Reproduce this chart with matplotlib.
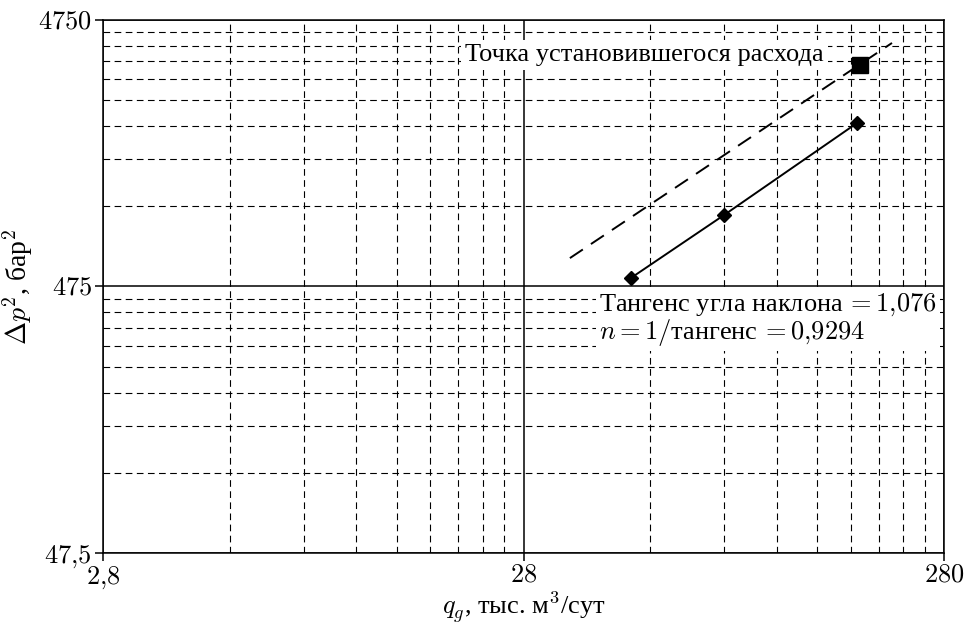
import numpy as np
import matplotlib
matplotlib.use("Agg")
import matplotlib.pyplot as plt
from matplotlib.ticker import FixedLocator, FixedFormatter, NullFormatter

plt.rcParams['font.family'] = ['Liberation Serif', 'DejaVu Serif']
plt.rcParams['mathtext.fontset'] = 'cm'

# measured points (q, dp^2)
q_meas = [50.4, 84.0, 174.0]
dp_meas = [511, 881, 1951]

# stabilised flow point
q_stab = [176.7]
dp_stab = [3220]

# dashed line through the stabilised point
q_dash = [36.1, 210.6]
dp_dash = [607, 3895]

x_major = [2.8, 28, 280]
x_labels = [r'$2{,}8$', r'$28$', r'$280$']
y_major = [47.5, 475, 4750]
y_labels = [r'$47{,}5$', r'$475$', r'$4750$']
mult = [2, 3, 4, 5, 6, 7, 8, 9]

fig = plt.figure(figsize=(9.69, 6.23), dpi=100)
ax = fig.add_axes([0.1063, 0.1124, 0.8679, 0.8555])
ax.set_xscale('log')
ax.set_yscale('log')
ax.set_xlim(2.8, 280)
ax.set_ylim(47.5, 4750)

x_minor = [b * k for b in x_major[:-1] for k in mult]
y_minor = [b * k for b in y_major[:-1] for k in mult]

ax.xaxis.set_major_locator(FixedLocator(x_major))
ax.xaxis.set_major_formatter(FixedFormatter(x_labels))
ax.xaxis.set_minor_locator(FixedLocator(x_minor))
ax.xaxis.set_minor_formatter(NullFormatter())
ax.yaxis.set_major_locator(FixedLocator(y_major))
ax.yaxis.set_major_formatter(FixedFormatter(y_labels))
ax.yaxis.set_minor_locator(FixedLocator(y_minor))
ax.yaxis.set_minor_formatter(NullFormatter())

ax.grid(which='major', color='black', linewidth=1.1, linestyle='-')
ax.grid(which='minor', color='black', linewidth=0.8, linestyle=(0, (6, 4)))
ax.set_axisbelow(True)
ax.tick_params(which='major', direction='out', length=6, width=1.1,
               labelsize=19, colors='black', pad=2)
ax.tick_params(which='minor', length=0)
for s in ax.spines.values():
    s.set_linewidth(1.1)

ax.plot(q_dash, dp_dash, color='black', linewidth=1.4, linestyle=(0, (8, 5)), zorder=4)
ax.plot(q_meas, dp_meas, color='black', linewidth=1.4, marker='D', markersize=7, zorder=4)
ax.plot(q_stab, dp_stab, color='black', linestyle='none', marker='s', markersize=11, zorder=5)

ax.text(0.644, 0.934, 'Точка установившегося расхода', transform=ax.transAxes,
        ha='center', va='center', fontsize=19, zorder=3,
        bbox=dict(facecolor='white', edgecolor='none', pad=3))
ax.text(0.590, 0.438, 'Тангенс угла наклона$\\,=1{,}076$\n$n=1/$тангенс$\\,=0{,}9294$',
        transform=ax.transAxes, ha='left', va='center', fontsize=19,
        linespacing=0.95, zorder=3,
        bbox=dict(facecolor='white', edgecolor='none', pad=2))

ax.set_xlabel(r'$q_g$, тыс. м$^3$/сут', fontsize=19, labelpad=-1)
ax.set_ylabel(r'$\Delta p^2$, бар$^2$', fontsize=20)
ax.yaxis.set_label_coords(-0.081, 0.5)

fig.savefig('out.png', dpi=100)
